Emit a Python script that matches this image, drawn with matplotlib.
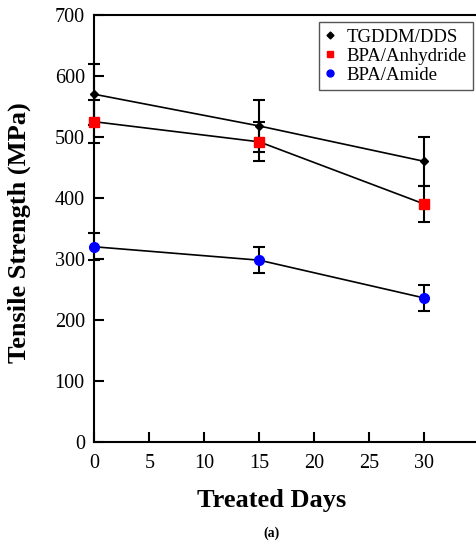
import matplotlib.pyplot as plt
from matplotlib.lines import Line2D

days = [0, 15, 30]
tgddm = [570, 518, 460]
tgddm_err = [50, 43, 40]
anhydride = [525, 492, 390]
anhydride_err = [35, 32, 30]
amide = [320, 298, 236]
amide_err = [22, 21, 21]

xticks = [0, 5, 10, 15, 20, 25, 30]
yticks = [0, 100, 200, 300, 400, 500, 600, 700]

plt.rcParams["font.family"] = ["Liberation Serif", "DejaVu Serif"]

fig = plt.figure(figsize=(4.76, 5.47), dpi=100)
ax = fig.add_axes([0.1985, 0.192, 0.8085, 0.7806])

common = dict(color="black", ecolor="black", elinewidth=1.5, capsize=4.3,
              capthick=1.5, lw=1.2, clip_on=False, zorder=3)
ax.errorbar(days, amide, yerr=amide_err, marker="o", ms=7, mfc="blue",
            mec="blue", **common)
ax.errorbar(days, anhydride, yerr=anhydride_err, marker="s", ms=7, mfc="red",
            mec="red", **common)
ax.errorbar(days, tgddm, yerr=tgddm_err, marker="D", ms=4.5, mfc="black",
            mec="black", **common)

ax.set_xlim(0, 35)
ax.set_ylim(0, 700)
ax.set_xticks(xticks)
ax.set_yticks(yticks)
ax.tick_params(direction="in", length=7, width=1.5, labelsize=14.5)
ax.tick_params(axis="x", pad=9)
ax.tick_params(axis="y", pad=7)
ax.tick_params(top=False, right=False)
for s in ["left", "bottom", "top"]:
    ax.spines[s].set_linewidth(1.5)
ax.spines["right"].set_visible(False)

ax.set_xlabel("Treated Days", fontsize=19, fontweight="bold")
ax.xaxis.set_label_coords(0.461, -0.11)
ax.set_ylabel("Tensile Strength (MPa)", fontsize=19, fontweight="bold")
ax.yaxis.set_label_coords(-0.166, 0.49)

handles = [
    Line2D([], [], ls="none", marker="D", ms=3.5, color="black"),
    Line2D([], [], ls="none", marker="s", ms=5, color="red"),
    Line2D([], [], ls="none", marker="o", ms=5, color="blue"),
]
labels = ["TGDDM/DDS", "BPA/Anhydride", "BPA/Amide"]
leg = ax.legend(handles, labels, loc="upper right",
                bbox_to_anchor=(0.9937, 0.9598), bbox_transform=fig.transFigure,
                fontsize=13.5, handlelength=0.5, handletextpad=0.6,
                borderaxespad=0, fancybox=False, framealpha=1,
                edgecolor="#555555", labelspacing=0.1, borderpad=0.35)
leg.get_frame().set_linewidth(1.0)

fig.text(0.571, 1 - 533 / 547, "(a)", fontsize=10, fontweight="bold",
         ha="center", va="center")

fig.savefig("out.png", dpi=100)
